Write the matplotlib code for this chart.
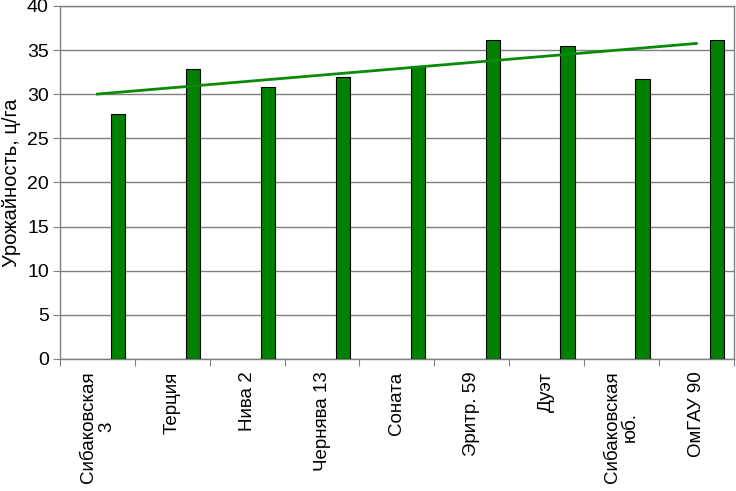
import matplotlib
matplotlib.use('Agg')
import matplotlib.pyplot as plt
import numpy as np

plt.rcParams['font.family'] = ['Liberation Sans', 'DejaVu Sans']

# сорта и урожайность
varieties = ['Сибаковская\n3', 'Терция', 'Нива 2', 'Чернява 13', 'Соната',
             'Эритр. 59', 'Дуэт', 'Сибаковская\nюб.', 'ОмГАУ 90']
yields = [27.8, 32.9, 30.8, 31.9, 33.2, 36.1, 35.4, 31.7, 36.1]
y_ticks = [0, 5, 10, 15, 20, 25, 30, 35, 40]

fig = plt.figure(figsize=(7.36, 4.91), dpi=100)
ax = fig.add_axes([0.0815, 0.269, 0.9155, 0.719])

x = np.arange(len(varieties))
ax.bar(x + 0.28, yields, width=0.19, color='#008000', edgecolor='black',
       linewidth=0.8, zorder=3)

# линейный тренд
k, b = np.polyfit(x, yields, 1)
ax.plot(x, k * x + b, color='#0a8a0a', linewidth=2, zorder=4)

ax.set_xlim(-0.5, len(varieties) - 0.5)
ax.set_ylim(0, 40)
ax.set_yticks(y_ticks)
ax.tick_params(axis='y', labelsize=14, length=5, color='#808080', pad=3)
ax.yaxis.grid(True, color='#808080', linewidth=1, zorder=0)

ax.set_xticks(np.arange(len(varieties) + 1) - 0.5)
ax.set_xticklabels([])
ax.set_xticks(x, minor=True)
ax.set_xticklabels(varieties, minor=True, rotation=90, fontsize=13.5,
                   va='top', ha='center', multialignment='center',
                   linespacing=1.1)
ax.tick_params(axis='x', which='major', length=5, color='#808080')
ax.tick_params(axis='x', which='minor', length=0, pad=9)

for s in ax.spines.values():
    s.set_color('#808080')
    s.set_linewidth(1)

ax.set_ylabel('Урожайность, ц/га', fontsize=14.5, labelpad=4)

fig.savefig('out.png', dpi=100)
